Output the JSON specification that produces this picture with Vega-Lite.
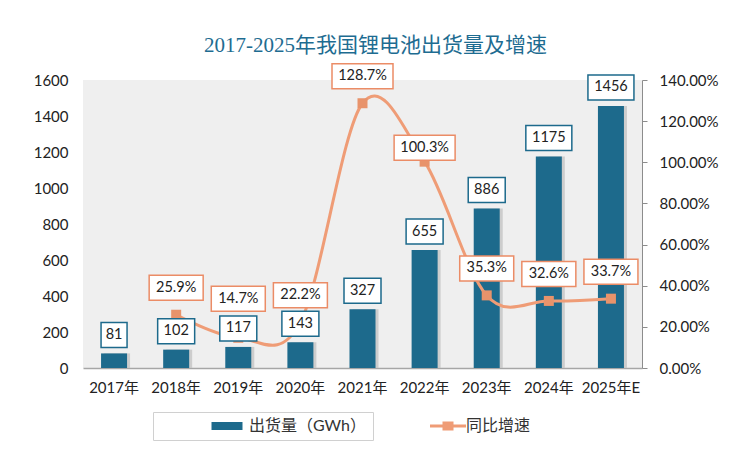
{
  "$schema": "https://vega.github.io/schema/vega-lite/v6.json",
  "width": 559,
  "height": 288,
  "autosize": {"type": "none"},
  "padding": {"left": 83, "top": 80, "right": 108, "bottom": 104},
  "background": "white",
  "config": {
    "view": {"fill": "#efefef", "stroke": null},
    "font": "Lato",
    "axis": {"grid": false, "title": null}
  },
  "title": {
    "text": "2017-2025年我国锂电池出货量及增速",
    "font": "Liberation Serif, Noto Sans CJK SC",
    "fontSize": 21,
    "fontWeight": "normal",
    "color": "#1E6C91",
    "anchor": "middle",
    "frame": "group",
    "dx": 13,
    "baseline": "alphabetic",
    "offset": -12
  },
  "data": {
    "values": [
      {"year": "2017年", "shipment": 81, "growth": null},
      {"year": "2018年", "shipment": 102, "growth": 0.259},
      {"year": "2019年", "shipment": 117, "growth": 0.147},
      {"year": "2020年", "shipment": 143, "growth": 0.222},
      {"year": "2021年", "shipment": 327, "growth": 1.287},
      {"year": "2022年", "shipment": 655, "growth": 1.003},
      {"year": "2023年", "shipment": 886, "growth": 0.353},
      {"year": "2024年", "shipment": 1175, "growth": 0.326},
      {"year": "2025年E", "shipment": 1456, "growth": 0.337}
    ]
  },
  "encoding": {
    "x": {
      "field": "year",
      "type": "ordinal",
      "sort": null,
      "scale": {"paddingInner": 0, "paddingOuter": 0},
      "axis": {
        "title": null,
        "labelAngle": 0,
        "ticks": false,
        "domainColor": "#a6a6a6",
        "domainWidth": 1.5,
        "labelFont": "Lato, Noto Sans CJK SC",
        "labelFontSize": 15,
        "labelColor": "#222222",
        "labelPadding": 12
      }
    }
  },
  "layer": [
    {
      "encoding": {
        "y": {
          "field": "shipment",
          "type": "quantitative",
          "scale": {"domain": [0, 1600]},
          "axis": {
            "title": null,
            "values": [0, 200, 400, 600, 800, 1000, 1200, 1400, 1600],
            "format": "d",
            "domain": false,
            "ticks": false,
            "grid": false,
            "labelFont": "Lato",
            "labelFontSize": 15,
            "labelColor": "#222222",
            "labelPadding": 15
          }
        }
      },
      "layer": [
        {
          "mark": {"type": "bar", "width": 26, "color": "#c4c4c4", "opacity": 0.8, "xOffset": 3}
        },
        {
          "mark": {"type": "bar", "width": 26},
          "encoding": {
            "fill": {
              "datum": "出货量（GWh）",
              "type": "nominal",
              "scale": {"domain": ["出货量（GWh）"], "range": ["#1D6A8C"]},
              "legend": {
                "title": null,
                "orient": "none",
                "legendX": 70,
                "legendY": 332,
                "strokeColor": "#d0d0d0",
                "padding": 6,
                "symbolType": "M-3.1,-0.8H3.1V0.8H-3.1Z",
                "symbolSize": 100,
                "symbolOffset": 60,
                "symbolStrokeWidth": 0,
                "symbolOpacity": 1,
                "labelOffset": 14,
                "labelExpr": "datum.label + '\u3000\u3000\u3000\u3000\u3000\u3000\u3000\u3000\u3000\u3000\u3000\u3000\u3000\u3000'",
                "labelFont": "Lato, Noto Sans CJK SC",
                "labelFontSize": 16,
                "labelColor": "#333333",
                "labelLimit": 400
              }
            }
          }
        }
      ]
    },
    {
      "transform": [{"filter": "datum.growth != null"}],
      "encoding": {
        "y": {
          "field": "growth",
          "type": "quantitative",
          "scale": {"domain": [0, 1.4]},
          "axis": {
            "orient": "right",
            "title": null,
            "values": [0, 0.2, 0.4, 0.6, 0.8, 1.0, 1.2, 1.4],
            "format": ".2%",
            "domainColor": "#8c8c8c",
            "tickColor": "#8c8c8c",
            "tickSize": 5,
            "grid": false,
            "labelFont": "Lato",
            "labelFontSize": 15,
            "labelColor": "#222222",
            "labelPadding": 12
          }
        }
      },
      "layer": [
        {
          "mark": {"type": "line", "interpolate": "cardinal", "strokeWidth": 3},
          "encoding": {
            "stroke": {
              "datum": "同比增速",
              "type": "nominal",
              "scale": {"domain": ["同比增速"], "range": ["#EF9C76"]},
              "legend": {
                "title": null,
                "orient": "none",
                "legendX": 357,
                "legendY": 338,
                "padding": 0,
                "symbolType": "M-3.6,0H3.6M-1.1,-0.6H1.1M-1.1,0.6H1.1",
                "symbolSize": 100,
                "symbolStrokeWidth": 3,
                "symbolOpacity": 1,
                "labelOffset": 10,
                "labelFont": "Lato, Noto Sans CJK SC",
                "labelFontSize": 16,
                "labelColor": "#333333",
                "labelLimit": 200
              }
            }
          }
        },
        {
          "mark": {"type": "point", "shape": "square", "filled": true, "size": 100, "color": "#E8936B", "opacity": 1}
        },
        {
          "transform": [{"filter": "datum.year !== '2019年' && datum.year !== '2022年'"}],
          "layer": [
            {
              "mark": {"type": "point", "filled": true, "fill": "white", "stroke": "#EB8C66", "strokeWidth": 1.5, "size": 4, "opacity": 1, "yOffset": -27},
              "encoding": {
                "shape": {
                  "condition": {"test": "datum.growth >= 1", "value": "M-30.5,-12.5H30.5V12.5H-30.5Z"},
                  "value": "M-27,-12.5H27V12.5H-27Z"
                }
              }
            },
            {
              "mark": {"type": "text", "font": "Lato", "fontSize": 14.5, "color": "#222222", "baseline": "middle", "yOffset": -27},
              "encoding": {"text": {"field": "growth", "type": "quantitative", "format": ".1%"}}
            }
          ]
        },
        {
          "transform": [{"filter": "datum.year === '2019年'"}],
          "layer": [
            {
              "mark": {"type": "point", "filled": true, "fill": "white", "stroke": "#EB8C66", "strokeWidth": 1.5, "size": 4, "opacity": 1, "yOffset": -39, "shape": "M-27,-12.5H27V12.5H-27Z"}
            },
            {
              "mark": {"type": "text", "font": "Lato", "fontSize": 14.5, "color": "#222222", "baseline": "middle", "yOffset": -39},
              "encoding": {"text": {"field": "growth", "type": "quantitative", "format": ".1%"}}
            }
          ]
        },
        {
          "transform": [{"filter": "datum.year === '2022年'"}],
          "layer": [
            {
              "mark": {"type": "point", "filled": true, "fill": "white", "stroke": "#EB8C66", "strokeWidth": 1.5, "size": 4, "opacity": 1, "yOffset": -14, "shape": "M-30.5,-12.5H30.5V12.5H-30.5Z"}
            },
            {
              "mark": {"type": "text", "font": "Lato", "fontSize": 14.5, "color": "#222222", "baseline": "middle", "yOffset": -14},
              "encoding": {"text": {"field": "growth", "type": "quantitative", "format": ".1%"}}
            }
          ]
        }
      ]
    },
    {
      "encoding": {
        "y": {
          "field": "shipment",
          "type": "quantitative",
          "scale": {"domain": [0, 1600]},
          "axis": null
        }
      },
      "layer": [
        {
          "mark": {"type": "point", "filled": true, "fill": "white", "stroke": "#1D6A8C", "strokeWidth": 1.5, "size": 4, "opacity": 1, "yOffset": -18.5},
          "encoding": {
            "shape": {
              "condition": [
                {"test": "datum.shipment < 100", "value": "M-13,-12.5H13V12.5H-13Z"},
                {"test": "datum.shipment < 1000", "value": "M-18.5,-12.5H18.5V12.5H-18.5Z"}
              ],
              "value": "M-23,-12.5H23V12.5H-23Z"
            }
          }
        },
        {
          "mark": {"type": "text", "font": "Lato", "fontSize": 14.5, "color": "#222222", "baseline": "middle", "yOffset": -18.5},
          "encoding": {"text": {"field": "shipment", "type": "quantitative", "format": "d"}}
        }
      ]
    }
  ],
  "resolve": {"scale": {"y": "independent"}}
}
